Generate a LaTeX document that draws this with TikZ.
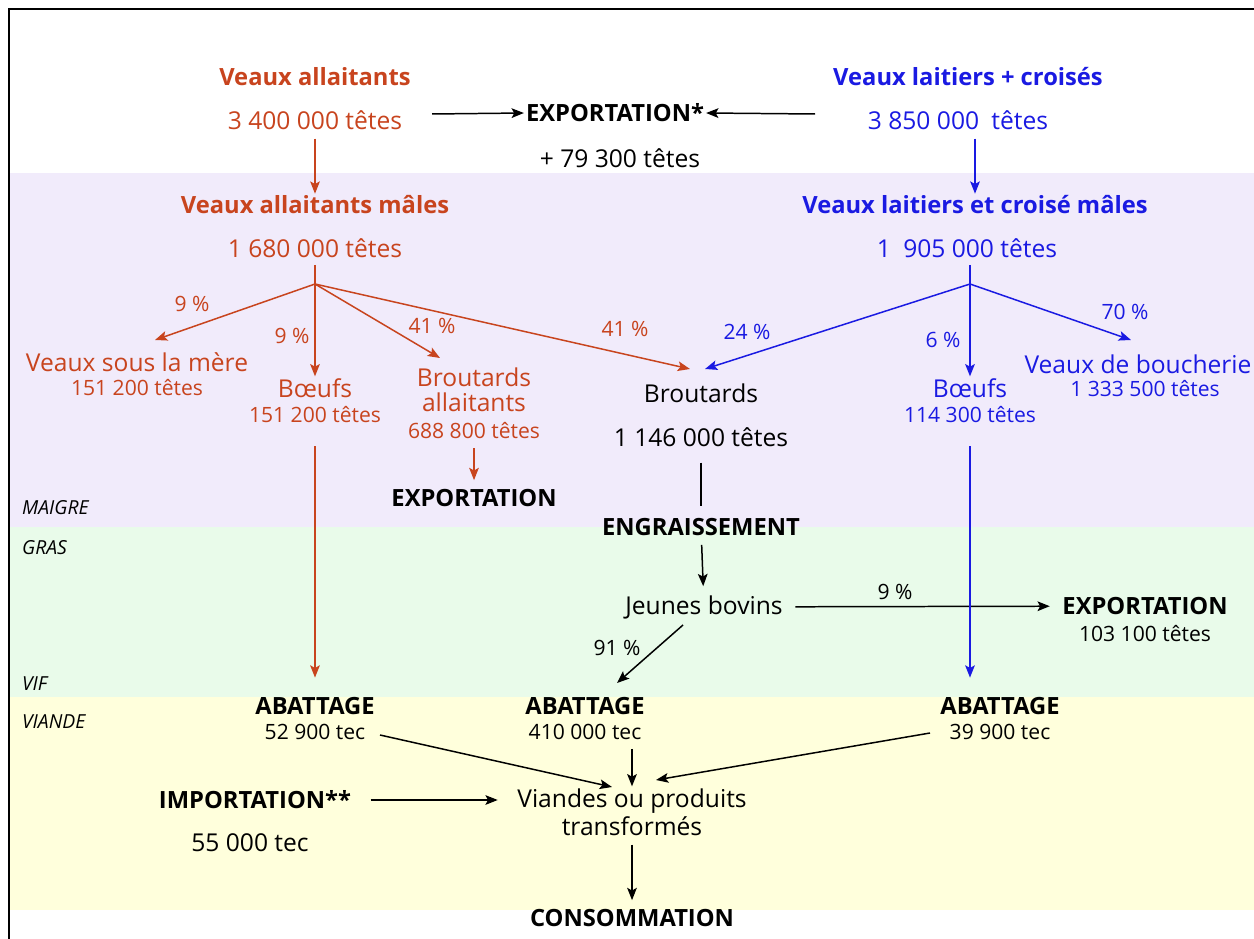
\documentclass[tikz,border=0pt]{standalone}
\usepackage{fontspec}
\setsansfont{Open Sans}
\usepackage{tikz}
\usetikzlibrary{arrows.meta}

\definecolor{rouge}{RGB}{200,68,30}
\definecolor{bleu}{RGB}{26,26,226}

\begin{document}
\begin{tikzpicture}[x=0.02cm,y=-0.02cm,font=\sffamily,
  every node/.style={inner sep=1pt},
  txt/.style={font=\sffamily\fontsize{14}{16}\selectfont},
  titre/.style={font=\sffamily\bfseries\fontsize{13.5}{16}\selectfont},
  petit/.style={font=\sffamily\fontsize{12}{14}\selectfont},
  zone/.style={font=\sffamily\itshape\fontsize{11}{13}\selectfont, anchor=west},
  fl/.style={-{Stealth[length=7pt,width=5.5pt,inset=1.5pt]}, line width=0.85pt},
  lr/.style={rouge}, lb/.style={bleu}]
\useasboundingbox (0,0) rectangle (1254,939);
\fill[white] (0,0) rectangle (1254,939);
\fill[fill={rgb,255:red,241;green,235;blue,251}] (9,173) rectangle (1254,527);
\fill[fill={rgb,255:red,233;green,251;blue,234}] (9,527) rectangle (1254,697);
\fill[fill={rgb,255:red,255;green,255;blue,220}] (9,697) rectangle (1254,910);
\draw[line width=1.5pt] (9,945) -- (9,9) -- (1260,9);

\node[zone] (maigre) at (20,508) {MAIGRE};
\node[zone] (gras) at (20,548) {GRAS};
\node[zone] (vif) at (20,684) {VIF};
\node[zone] (viande) at (20,722) {VIANDE};

% allaitants
\node[titre, lr] (va) at (315,77) {Veaux allaitants};
\node[txt, lr] (van) at (315,120) {3 400 000 têtes};
\node[titre] (exp) at (615,113) {EXPORTATION*};
\node[txt] (expn) at (620,158) {+ 79 300 têtes};
\node[titre, lb] (vl) at (968,77) {Veaux laitiers + croisés};
\node[txt, lb] (vln) at (958,120) {3 850 000\enspace têtes};
\draw[fl] (432,114) -- (exp.west);
\draw[fl] (815,114) -- (exp.east);

\node[titre, lr] (vam) at (315,205) {Veaux allaitants mâles};
\node[txt, lr] (vamn) at (315,248) {1 680 000 têtes};
\node[titre, lb] (vlm) at (975,205) {Veaux laitiers et croisé mâles};
\node[txt, lb] (vlmn) at (967,248) {1\enspace 905 000 têtes};
\draw[fl, lr, shorten <=4pt] (van) -- (vam);
\draw[fl, lb, shorten <=4pt] (vln.south -| vlm) -- (vlm);

% red fan
\coordinate (rf) at (315,284);
\node[txt, lr] (vsm) at (137,362) {Veaux sous la mère};
\node[petit, lr] (vsmn) at (137,388) {151 200 têtes};
\node[txt, lr] (rbo) at (315,388) {Bœufs};
\node[petit, lr] (rbon) at (315,415) {151 200 têtes};
\node[txt, lr, align=center] (bra) at (474,390) {Broutards\\[-2pt]allaitants};
\node[petit, lr] (bran) at (474,431) {688 800 têtes};
\node[titre] (expb) at (474,498) {EXPORTATION};
\node[txt] (br) at (701,393) {Broutards};
\node[txt] (brn) at (701,437) {1 146 000 têtes};
\draw[lr, line width=0.85pt, shorten <=3pt] (vamn) -- (rf);
\draw[fl, lr] (rf) -- (155,340);
\draw[fl, lr] (rf) -- (rbo);
\draw[fl, lr] (rf) -- (440,358);
\draw[fl, lr] (rf) -- (690,369);
\node[petit, lr] (p1) at (192,304) {9 \%};
\node[petit, lr] (p2) at (292,336) {9 \%};
\node[petit, lr] (p3) at (432,326) {41 \%};
\node[petit, lr] (p4) at (625,329) {41 \%};
\draw[fl, lr, shorten <=4pt, shorten >=4pt] (bran) -- (expb);

% blue fan
\coordinate (bf) at (970,284);
\node[txt, lb] (bbo) at (970,388) {Bœufs};
\node[petit, lb] (bbon) at (970,415) {114 300 têtes};
\node[txt, lb] (vdb) at (1138,364) {Veaux de boucherie};
\node[petit, lb] (vdbn) at (1145,389) {1 333 500 têtes};
\draw[lb, line width=0.85pt, shorten <=3pt] (vlmn.south -| bf) -- (bf);
\draw[fl, lb] (bf) -- (705,369);
\draw[fl, lb] (bf) -- (bbo);
\draw[fl, lb] (bf) -- (1131,340);
\node[petit, lb] (p5) at (747,332) {24 \%};
\node[petit, lb] (p6) at (943,340) {6 \%};
\node[petit, lb] (p7) at (1125,312) {70 \%};

% engraissement
\node[titre] (eng) at (701,527) {ENGRAISSEMENT};
\node[txt] (jb) at (704,607) {Jeunes bovins};
\node[titre] (expc) at (1145,606) {EXPORTATION};
\node[petit] (expcn) at (1145,634) {103 100 têtes};
\draw[line width=0.85pt, shorten <=8pt, shorten >=6pt] (brn) -- (eng);
\draw[fl, shorten <=4pt, shorten >=4pt] (eng) -- (jb);
\draw[fl, shorten <=6pt, shorten >=6pt] (jb) -- (expc);
\node[petit] (p8) at (895,592) {9 \%};

% abattage
\node[titre] (abr) at (315,706) {ABATTAGE};
\node[petit] (abrn) at (315,732) {52 900 tec};
\node[titre] (abj) at (585,706) {ABATTAGE};
\node[petit] (abjn) at (585,732) {410 000 tec};
\node[titre] (abb) at (1000,706) {ABATTAGE};
\node[petit] (abbn) at (1000,732) {39 900 tec};
\draw[fl, rouge, shorten <=12pt, shorten >=10pt] (rbon) -- (abr);
\draw[fl, bleu, shorten <=12pt, shorten >=10pt] (bbon) -- (abb.north -| bbon);
\draw[fl] (683,625) -- (617,683);
\node[petit] (p9) at (617,648) {91 \%};

% viande
\node[txt, align=center] (vpt) at (632,812) {Viandes ou produits\\transformés};
\node[titre] (imp) at (255,800) {IMPORTATION**};
\node[txt] (impn) at (250,843) {55 000 tec};
\node[titre] (cons) at (632,918) {CONSOMMATION};
\draw[fl] (380,735) -- (612,787);
\draw[fl, shorten <=4pt] (abjn.south -| vpt) -- (vpt);
\draw[fl] (930,733) -- (656,780);
\draw[fl, shorten <=10pt, shorten >=10pt] (imp) -- (imp -| vpt.west);
\draw[fl, shorten <=4pt, shorten >=4pt] (vpt) -- (cons);
\end{tikzpicture}
\end{document}
